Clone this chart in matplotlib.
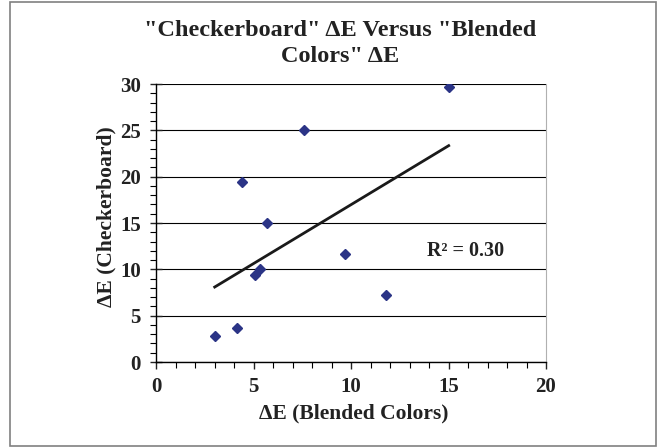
import numpy as np
from matplotlib import pyplot as plt
from matplotlib.patches import Rectangle
from matplotlib.ticker import MultipleLocator

blended = [3.01, 4.17, 5.08, 5.32, 4.43, 5.71, 7.61, 9.69, 11.79, 15.01]
checker = [2.84, 3.63, 9.39, 10.0, 19.45, 14.99, 25.0, 11.68, 7.26, 29.7]
title = '"Checkerboard" \u0394E Versus "Blended\nColors" \u0394E'
r2_label = 'R\u00b2 = 0.30'

plt.rcParams['font.family'] = ['Liberation Serif', 'DejaVu Serif']
plt.rcParams['font.weight'] = 'bold'

fig = plt.figure(figsize=(6.59, 4.48), dpi=100)
ax = fig.add_axes([156 / 659, 1 - 362 / 448, 390 / 659, 278 / 448])

# outer chart border
fig.patches.append(Rectangle((10 / 659, 2 / 448), 646 / 659, 444 / 448,
                             transform=fig.transFigure, fill=False,
                             edgecolor='#808080', linewidth=1.2))

x = np.array(blended)
y = np.array(checker)
m, b = np.polyfit(x, y, 1)
xs = np.array([x.min(), x.max()])

ax.set_xlim(0, 20)
ax.set_ylim(0, 30)
ax.yaxis.set_major_locator(MultipleLocator(5))
ax.yaxis.set_minor_locator(MultipleLocator(1))
ax.xaxis.set_major_locator(MultipleLocator(5))
ax.xaxis.set_minor_locator(MultipleLocator(1))
ax.grid(axis='y', which='major', color='black', linewidth=0.8)
ax.set_axisbelow(True)

ax.plot(xs, m * xs + b, color='#1a1a1a', linewidth=2, zorder=3)
ax.plot(x, y, linestyle='none', marker='D', markersize=4.6,
        color='#2b3486', zorder=4)

ax.text(13.9, 12.0, r2_label, fontsize=14.5, fontweight='bold',
        ha='left', va='center', color='#222222')

ax.spines['top'].set_visible(False)
ax.spines['right'].set_color('#b0b0b0')
ax.spines['left'].set_linewidth(1)
ax.spines['bottom'].set_linewidth(1)

ax.tick_params(axis='both', which='major', labelsize=15, length=5,
               width=1, colors='#222222')
ax.tick_params(axis='y', which='major', direction='inout', length=8, pad=7)
ax.tick_params(axis='x', which='major', direction='out', pad=6)
ax.tick_params(axis='both', which='minor', direction='out', length=4, width=0.8)
for lab in ax.get_xticklabels() + ax.get_yticklabels():
    lab.set_fontweight('bold')

ax.set_xlabel('\u0394E (Blended Colors)', fontsize=15.5, fontweight='bold',
              color='#222222')
ax.xaxis.set_label_coords((354 - 156) / 390, -(403 - 362) / 278)
ax.set_ylabel('\u0394E (Checkerboard)', fontsize=15.5, fontweight='bold',
              color='#222222')
ax.yaxis.set_label_coords(-(156 - 116) / 390, (362 - 217) / 278)

fig.text(340 / 659, 1 - 43.5 / 448, title, fontsize=17.5, fontweight='bold',
         ha='center', va='center', color='#222222', linespacing=1.25)

fig.savefig('out.png', dpi=100)
